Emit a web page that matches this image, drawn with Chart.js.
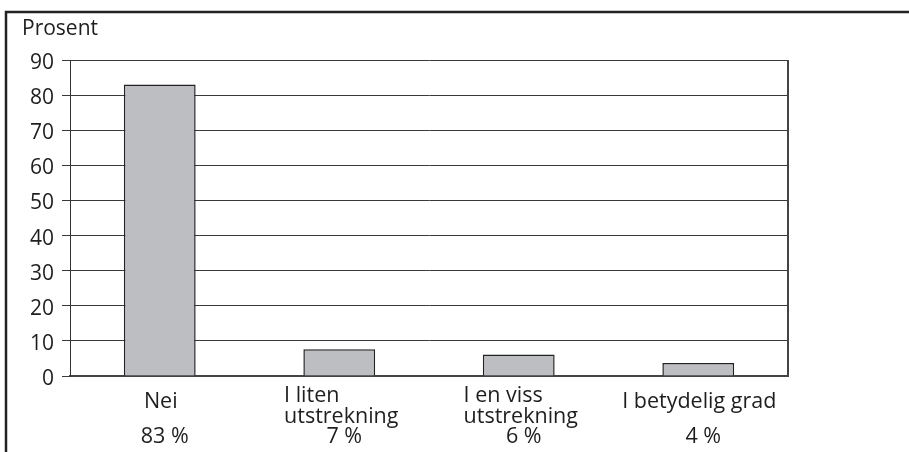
<!DOCTYPE html>
<html>
<head>
<meta charset="utf-8">
<script src="https://cdn.jsdelivr.net/npm/chart.js@4"></script>
<style>
  html, body { margin: 0; padding: 0; background: #fff; }
  #wrap { position: relative; width: 909px; height: 452px; }
</style>
</head>
<body>
<div id="wrap"><canvas id="chart" width="909" height="452"></canvas></div>
<script>
const categories = [["Nei"], ["I liten", "utstrekning"], ["I en viss", "utstrekning"], ["I betydelig grad"]];
const shareLabels = ["83 %", "7 %", "6 %", "4 %"];
const values = [83, 7.6, 6.1, 3.7];
const yTicks = [0, 10, 20, 30, 40, 50, 60, 70, 80, 90];

const FONT = "'Open Sans', sans-serif";
const INK = "#1e1e1e";

// frame, right edge and two-level category labels
const decor = {
  id: "decor",
  afterDraw(chart) {
    const { ctx, chartArea: a, scales: { x } } = chart;
    ctx.save();
    ctx.strokeStyle = "#222";
    ctx.lineWidth = 2.5;
    ctx.beginPath();
    ctx.moveTo(6, 452);
    ctx.lineTo(6, 12);
    ctx.lineTo(909, 12);
    ctx.stroke();

    ctx.strokeStyle = "#444";
    ctx.lineWidth = 2;
    ctx.beginPath();
    ctx.moveTo(a.right, a.top);
    ctx.lineTo(a.right, a.bottom);
    ctx.stroke();

    ctx.fillStyle = INK;
    ctx.font = "21px " + FONT;
    ctx.textBaseline = "alphabetic";
    ctx.textAlign = "left";
    ctx.fillText("Prosent", 22, 35);

    ctx.font = "21.5px " + FONT;
    categories.forEach((lines, i) => {
      const cx = x.getPixelForValue(i);
      const w = Math.max(...lines.map(l => ctx.measureText(l).width));
      const left = cx + 2 - w / 2;
      if (lines.length === 1) {
        ctx.textAlign = "center";
        ctx.fillText(lines[0], cx + 1, 408);
      } else {
        ctx.textAlign = "left";
        ctx.fillText(lines[0], left, 402);
        ctx.fillText(lines[1], left, 423);
      }
      ctx.textAlign = "center";
      ctx.fillText(shareLabels[i], cx + 5, 443);
    });
    ctx.restore();
  }
};

new Chart(document.getElementById("chart"), {
  type: "bar",
  data: {
    labels: categories.map(c => c.join(" ")),
    datasets: [{
      data: values,
      backgroundColor: "#bdbec2",
      borderColor: "#222",
      borderWidth: 1.5,
      barPercentage: 0.4,
      categoryPercentage: 1
    }]
  },
  options: {
    responsive: false,
    animation: false,
    layout: { padding: { top: 60, right: 121, bottom: 0, left: 0 } },
    plugins: { legend: { display: false }, tooltip: { enabled: false } },
    scales: {
      x: {
        grid: { display: false },
        border: { color: "#444", width: 2 },
        ticks: { display: false },
        afterFit(s) { s.height = 76; }
      },
      y: {
        min: 0,
        max: 90,
        afterBuildTicks(s) { s.ticks = yTicks.map(v => ({ value: v })); },
        grid: { color: "#3a3a3a", lineWidth: 1, tickLength: 8 },
        border: { color: "#333", width: 1 },
        ticks: { color: INK, padding: 8, labelOffset: 3, font: { family: FONT, size: 21 } },
        afterFit(s) { s.width = 70; }
      }
    }
  },
  plugins: [decor]
});
</script>
</body>
</html>
